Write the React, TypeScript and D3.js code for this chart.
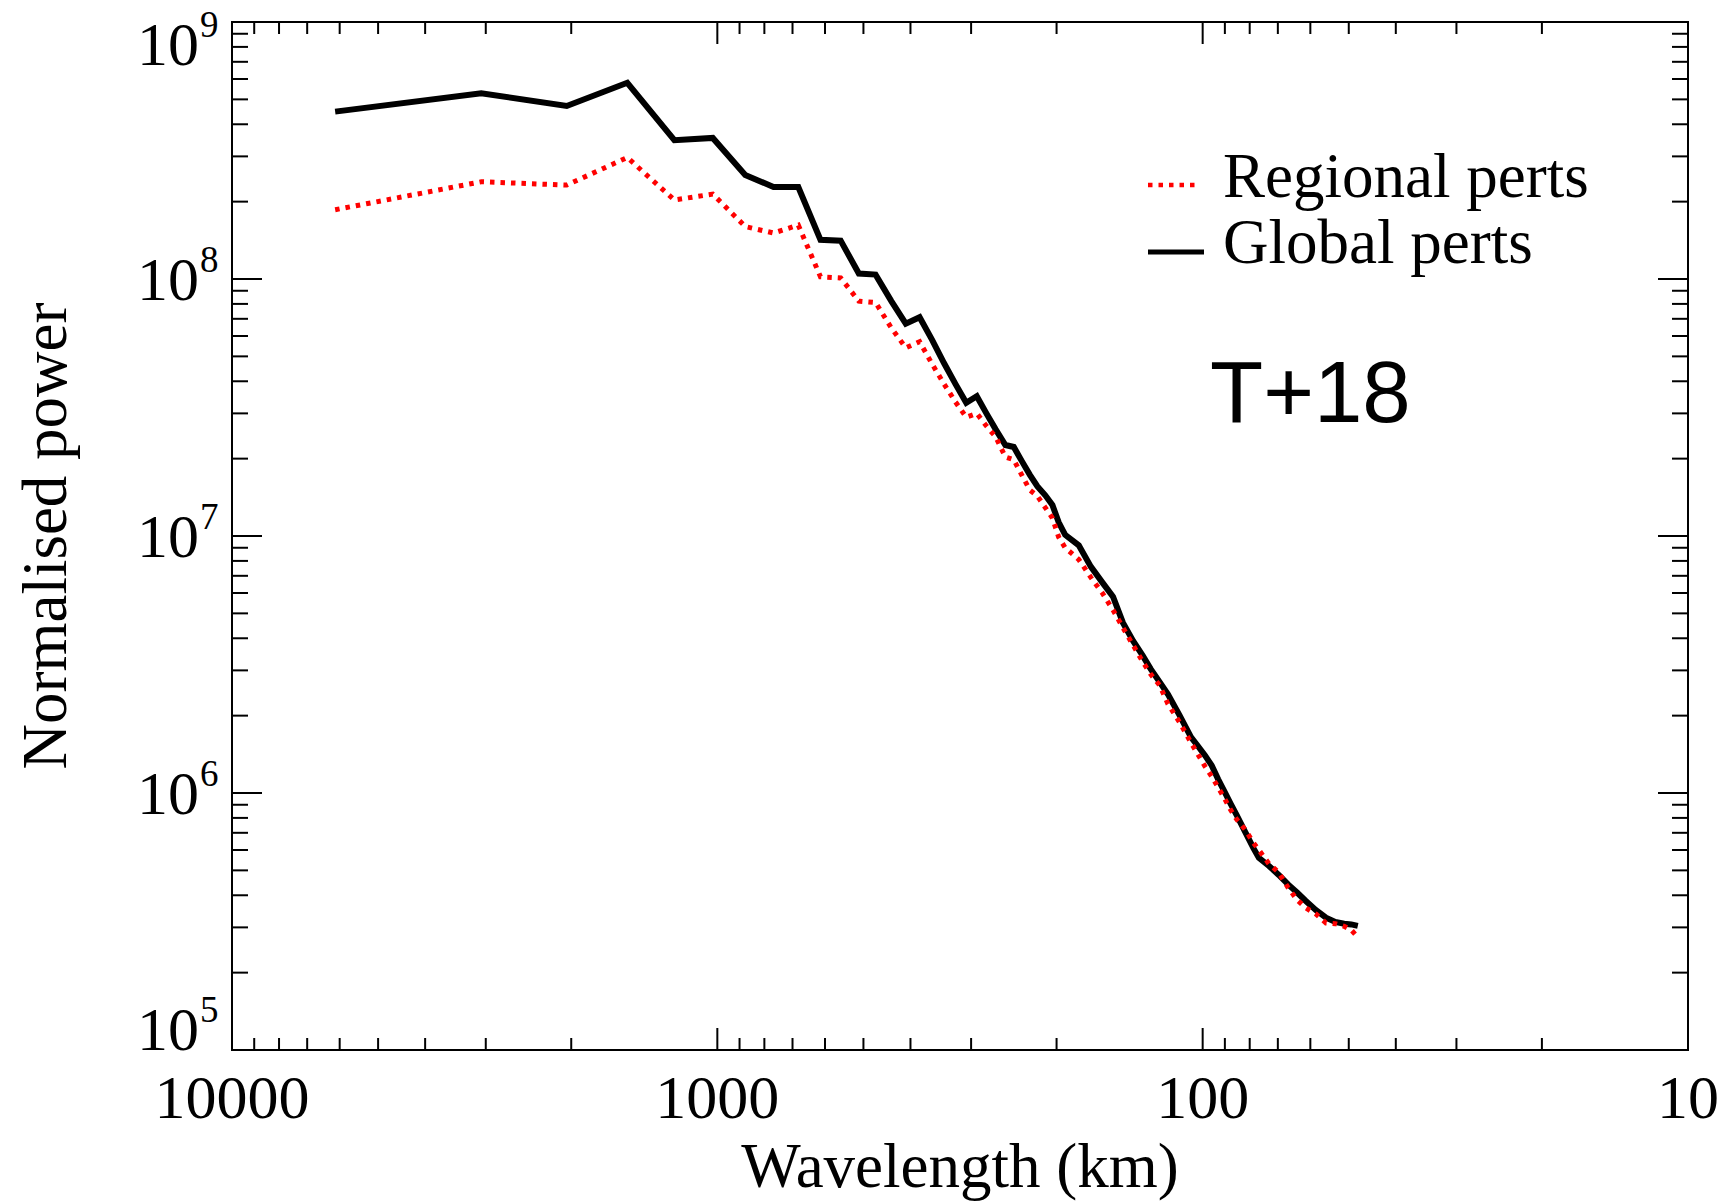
import React from 'react';
import * as d3 from 'd3';

// wavelength of each spectral point (km)
const wavelengthKm = [
  6130, 3065, 2043, 1533, 1226, 1022, 876, 766, 681, 613,
  557, 511, 472, 438, 409, 383, 361, 341, 323, 307,
  292, 279, 267, 255, 245, 236, 227, 219, 211, 204,
  198, 192, 180, 170, 161, 153, 146, 139, 133, 128,
  122.6, 117.9, 111.5, 105.7, 102.2, 98.9, 95.8, 92.9, 90.1, 87.6,
  85.1, 81.7, 78.6, 76.6, 73.0, 69.7, 66.6, 63.9, 61.3, 58.4,
  55.7, 53.3, 51.1, 49.4, 47.9,
];

const globalPower = [
  4.48e8, 5.28e8, 4.71e8, 5.8e8, 3.47e8, 3.54e8, 2.54e8, 2.28e8, 2.28e8, 1.42e8,
  1.41e8, 1.05e8, 1.04e8, 8.2e7, 6.7e7, 7.1e7, 5.8e7, 4.7e7, 3.9e7, 3.3e7,
  3.5e7, 3.0e7, 2.6e7, 2.26e7, 2.22e7, 1.96e7, 1.73e7, 1.56e7, 1.44e7, 1.32e7,
  1.13e7, 1.01e7, 9.2e6, 7.6e6, 6.6e6, 5.8e6, 4.6e6, 3.9e6, 3.43e6, 3.04e6,
  2.7e6, 2.42e6, 2.0e6, 1.65e6, 1.52e6, 1.4e6, 1.28e6, 1.13e6, 1.01e6, 9.1e5,
  8.2e5, 7.05e5, 6.1e5, 5.6e5, 5.2e5, 4.8e5, 4.4e5, 4.1e5, 3.8e5, 3.5e5,
  3.27e5, 3.15e5, 3.1e5, 3.08e5, 3.04e5,
];

const regionalPower = [
  1.86e8, 2.39e8, 2.32e8, 2.97e8, 2.03e8, 2.14e8, 1.6e8, 1.51e8, 1.62e8, 1.02e8,
  1.01e8, 8.2e7, 8.1e7, 6.45e7, 5.4e7, 5.7e7, 4.67e7, 3.9e7, 3.32e7, 2.9e7,
  3.0e7, 2.68e7, 2.43e7, 2.03e7, 1.98e7, 1.73e7, 1.51e7, 1.43e7, 1.29e7, 1.175e7,
  9.9e6, 9.0e6, 8.1e6, 6.9e6, 6.0e6, 5.15e6, 4.4e6, 3.75e6, 3.25e6, 2.9e6,
  2.62e6, 2.22e6, 1.88e6, 1.57e6, 1.41e6, 1.27e6, 1.16e6, 1.05e6, 9.5e5, 8.6e5,
  7.9e5, 7.2e5, 6.4e5, 6.0e5, 5.3e5, 4.9e5, 4.27e5, 3.84e5, 3.57e5, 3.38e5,
  3.12e5, 3.1e5, 3.03e5, 2.93e5, 2.75e5,
];

const xTickLabels = ['10000', '1000', '100', '10'];
const yExponents = [5, 6, 7, 8, 9];
const legendLabels = ['Regional perts', 'Global perts'];
const leadTime = 'T+18';

const serif = '"Liberation Serif", "Times New Roman", serif';

const App: React.FC = () => {
  const left = 232;
  const right = 1688;
  const top = 22;
  const bottom = 1050;

  const x = d3.scaleLog().domain([10000, 10]).range([left, right]);
  const y = d3.scaleLog().domain([1e5, 1e9]).range([bottom, top]);

  const line = d3
    .line<number>()
    .x((_, i) => x(wavelengthKm[i]))
    .y((d) => y(d));

  const isMajor = (v: number) => Math.abs(Math.log10(v) - Math.round(Math.log10(v))) < 1e-9;
  const xTicks = x.ticks().filter((t) => t > 10 && t < 10000);
  const yTicks = y.ticks().filter((t) => t > 1e5 && t < 1e9);

  return (
    <svg
      width={1735}
      height={1201}
      style={{ position: 'absolute', left: 0, top: 0, background: '#fff' }}
    >
      {/* curves */}
      <path d={line(globalPower) || ''} fill="none" stroke="#000" strokeWidth={6} strokeLinejoin="miter" />
      <path
        d={line(regionalPower) || ''}
        fill="none"
        stroke="#f00"
        strokeWidth={5}
        strokeDasharray="4.5 6"
      />

      {/* frame */}
      <rect x={left} y={top} width={right - left} height={bottom - top} fill="none" stroke="#000" strokeWidth={2} />

      {/* x ticks, bottom and top */}
      {xTicks.map((t, i) => {
        const len = isMajor(t) ? 22 : 12;
        return (
          <g key={'xt' + i} stroke="#000" strokeWidth={2}>
            <line x1={x(t)} x2={x(t)} y1={bottom} y2={bottom - len} />
            <line x1={x(t)} x2={x(t)} y1={top} y2={top + len} />
          </g>
        );
      })}

      {/* y ticks, left and right */}
      {yTicks.map((t, i) => {
        const len = isMajor(t) ? 30 : 16;
        return (
          <g key={'yt' + i} stroke="#000" strokeWidth={2}>
            <line x1={left} x2={left + len} y1={y(t)} y2={y(t)} />
            <line x1={right} x2={right - len} y1={y(t)} y2={y(t)} />
          </g>
        );
      })}

      {/* x tick labels */}
      {xTickLabels.map((lab) => (
        <text key={lab} x={x(+lab)} y={1118} textAnchor="middle" fontFamily={serif} fontSize={62}>
          {lab}
        </text>
      ))}

      {/* y tick labels */}
      {yExponents.map((e) => {
        const ty = y(Math.pow(10, e));
        const base = e === 9 ? ty + 43 : e === 5 ? ty : ty + 21;
        return (
          <g key={'yl' + e} fontFamily={serif}>
            <text x={199} y={base} textAnchor="end" fontSize={62}>
              10
            </text>
            <text x={200} y={base - 28} fontSize={37}>
              {e}
            </text>
          </g>
        );
      })}

      {/* axis titles */}
      <text x={(left + right) / 2} y={1187} textAnchor="middle" fontFamily={serif} fontSize={63}>
        Wavelength (km)
      </text>
      <text
        transform={`translate(66, ${(top + bottom) / 2}) rotate(-90)`}
        textAnchor="middle"
        fontFamily={serif}
        fontSize={63}
      >
        Normalised power
      </text>

      {/* legend */}
      <line x1={1148} x2={1200} y1={185} y2={185} stroke="#f00" strokeWidth={4.5} strokeDasharray="4.5 6" />
      <text x={1223} y={197} fontFamily={serif} fontSize={63}>
        {legendLabels[0]}
      </text>
      <line x1={1148} x2={1204} y1={252} y2={252} stroke="#000" strokeWidth={5} />
      <text x={1223} y={263} fontFamily={serif} fontSize={63}>
        {legendLabels[1]}
      </text>

      <text x={1210} y={422} fontFamily='"Liberation Sans", Arial, sans-serif' fontSize={87}>
        {leadTime}
      </text>
    </svg>
  );
};

export default App;
